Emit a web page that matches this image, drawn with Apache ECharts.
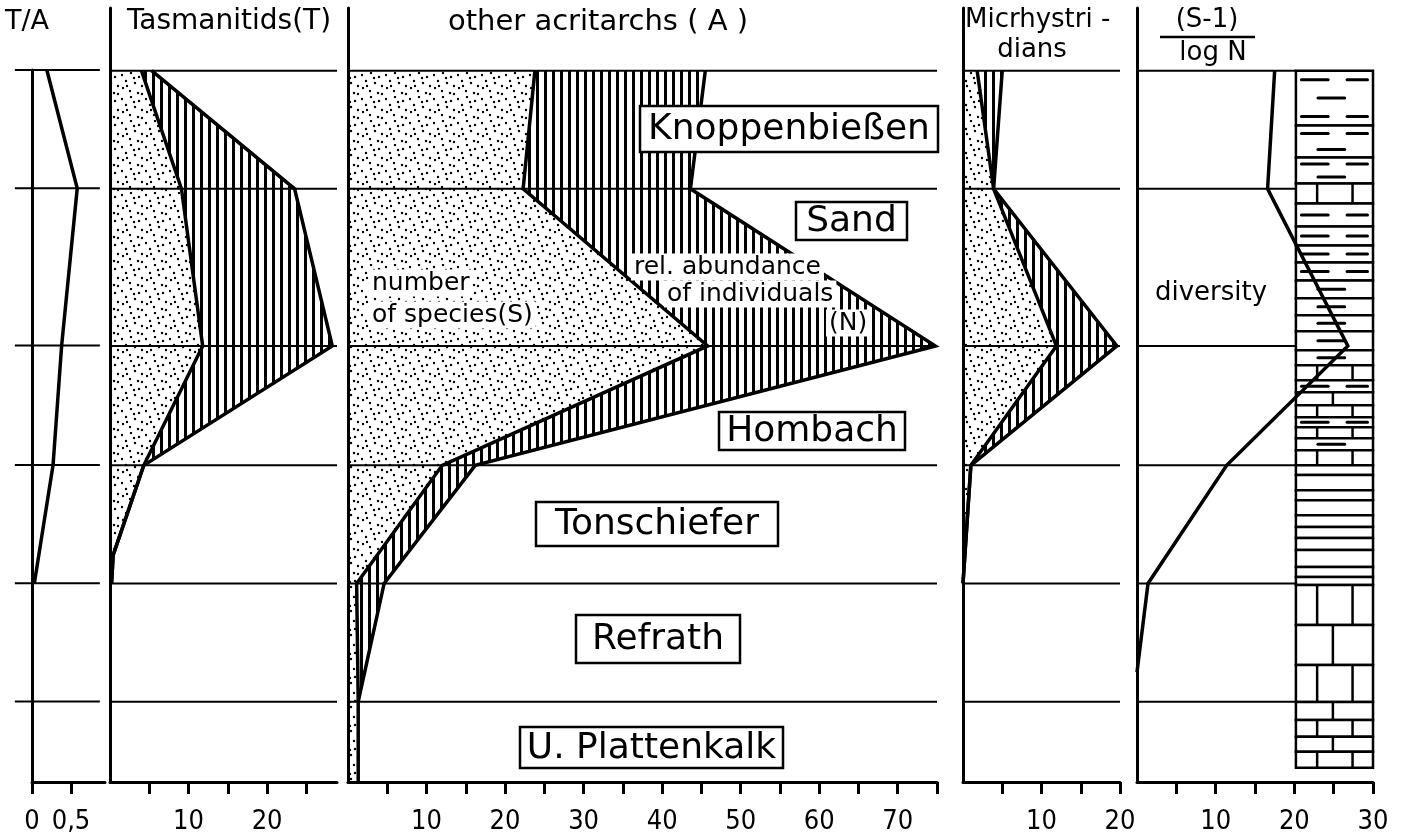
<!DOCTYPE html>
<html>
<head>
<meta charset="utf-8">
<script src="https://cdn.jsdelivr.net/npm/echarts@6/dist/echarts.min.js"></script>
<style>
    html, body { margin: 0; padding: 0; background: #fff; }
    #chart { width: 1402px; height: 836px; }
</style>
</head>
<body>
<div id="chart"></div>
<script>
// depth of the sample horizons (top horizon = 0)
const levels = [0, 10, 23.3, 33.4, 43.4, 53.4]

// T/A ratio
const taDepth = [0, 10, 23.3, 33.4, 43.4]
const taValues = [0.19, 0.58, 0.38, 0.27, 0.03]

// Tasmanitids: number of species (S) / rel. abundance (N)
const tasDepth = [0, 10, 23.3, 33.4, 41.0, 43.4]
const tasS = [4.0, 9.1, 11.8, 4.3, 0.4, 0.2]
const tasN = [5.3, 23.5, 28.3, 4.3, 0.4, 0.2]

// other acritarchs
const acrDepth = [0, 10, 23.3, 33.4, 43.4, 53.4, 60.2]
const acrS = [23.8, 22.3, 45.8, 12.0, 1.1, 1.3, 1.3]
const acrN = [45.5, 43.6, 74.8, 16.2, 4.6, 1.3]

// Micrhystridians
const micDepth = [0, 10, 23.3, 33.4, 43.4]
const micS = [1.8, 3.9, 11.9, 1.0, 0]
const micN = [5.0, 3.9, 19.6, 1.0, 0]

// diversity (S-1)/log N
const divDepth = [0, 10, 23.3, 33.4, 43.4, 50.9]
const divValues = [17.5, 16.6, 26.8, 11.4, 1.4, 0]

// lithology column: bed boundaries (depth) and bed type
const bedBounds = [0, 4.65, 7.35, 9.55, 11.24, 13.19, 14.79, 16.23, 17.75, 19.27, 20.71, 22.06, 23.67,
    24.94, 26.2, 27.22, 28.32, 29.33, 30.18, 31.11, 32.12, 33.39, 34.23, 35.5, 36.35, 37.62, 38.63,
    39.56, 40.57, 42.01, 42.86, 43.53, 46.91, 50.3, 53.42, 54.95, 56.38, 57.65, 59.0]
const bedType = ['sh2', 'sh2', 'sh2', 'bA', 'sh2', 'sh2', 'sh2', 'sh2', 'sh1', 'sh1', 'sh1', 'sh1', 'sh1',
    'bA', 'sh2', 'bB', 'bA', 'sh2', 'bA', 'sh1', 'bA',
    'pl', 'pl', 'pl', 'pl', 'pl', 'pl', 'pl', 'pl', 'pl', 'pl',
    'bA', 'bB', 'bA', 'bB', 'bA', 'bB', 'bA']

const NARROW = "'DejaVu Sans Condensed', 'Liberation Sans Narrow', 'DejaVu Sans', sans-serif"
const WIDE = "'DejaVu Sans', sans-serif"

// fill patterns
function stipple() {
    const c = document.createElement('canvas')
    c.width = 24; c.height = 24
    const g = c.getContext('2d')
    g.fillStyle = '#000'
    const dots = [[2, 3], [11, 1], [19, 5], [6, 9], [15, 11], [22, 14], [3, 16], [10, 19], [18, 21],
        [14, 6], [7, 14], [22, 22]]
    dots.forEach(d => { g.beginPath(); g.arc(d[0], d[1], 1.2, 0, Math.PI * 2); g.fill() })
    return { image: c, repeat: 'repeat' }
}
function hatch() {
    const c = document.createElement('canvas')
    c.width = 8; c.height = 8
    const g = c.getContext('2d')
    g.fillStyle = '#000'
    g.fillRect(0, 0, 3, 8)
    return { image: c, repeat: 'repeat' }
}
const DOTS = stipple()
const BARS = hatch()

function areaSeries(grid, depth, inner, outer, fill) {
    return {
        type: 'custom', xAxisIndex: grid, yAxisIndex: grid, z: 1, silent: true,
        data: [[0, 0]],
        renderItem: function (params, api) {
            const pts = []
            depth.forEach((d, i) => pts.push(api.coord([outer[i], d])))
            for (let i = depth.length - 1; i >= 0; i--) {
                pts.push(api.coord([inner ? inner[i] : 0, depth[i]]))
            }
            return { type: 'polygon', shape: { points: pts }, style: { fill: fill } }
        }
    }
}

function lineSeries(grid, depth, vals, z) {
    return {
        type: 'line', xAxisIndex: grid, yAxisIndex: grid, z: z || 5, silent: true,
        data: depth.map((d, i) => [vals[i], d]),
        symbol: 'none',
        lineStyle: { color: '#000', width: 3.5, join: 'miter' }
    }
}

// horizon lines of one column
function horizonSeries(grid, x0, x1) {
    return {
        type: 'custom', xAxisIndex: grid, yAxisIndex: grid, z: 3, silent: true,
        data: levels.map(d => [x0, d]),
        renderItem: function (params, api) {
            const d = api.value(1)
            const a = api.coord([x0, d])
            const b = api.coord([x1, d])
            return {
                type: 'line',
                shape: { x1: a[0], y1: a[1], x2: b[0], y2: b[1] },
                style: { stroke: '#000', lineWidth: 2 }
            }
        }
    }
}

// lithology column drawn in the diversity grid
const colLeft = 20.2, colRight = 30
function renderBed(params, api) {
    const i = params.dataIndex
    const top = api.value(0), bot = api.value(1)
    const p0 = api.coord([colLeft, top])
    const p1 = api.coord([colRight, bot])
    const x = p0[0], y = p0[1], w = p1[0] - p0[0], h = p1[1] - p0[1]
    const xAt = v => api.coord([v, top])[0]
    const kids = [{
        type: 'rect', shape: { x: x, y: y, width: w, height: h },
        style: { fill: '#fff', stroke: '#000', lineWidth: 2.5 }
    }]
    const t = bedType[i]
    if (t === 'bA' || t === 'bB') {
        const joints = t === 'bA' ? [22.9, 27.4] : [24.9]
        joints.forEach(j => kids.push({
            type: 'line', shape: { x1: xAt(j), y1: y, x2: xAt(j), y2: y + h },
            style: { stroke: '#000', lineWidth: 2.5 }
        }))
    }
    if (t === 'sh2' || t === 'sh1') {
        const rows = Math.max(1, Math.round(h / 17))
        for (let r = 0; r < rows; r++) {
            const yy = y + h * (r + 0.5) / rows
            const dashes = (t === 'sh2' && r % 2 === 0) ? [[20.9, 24.3], [26.7, 29.3]] : [[23.0, 26.4]]
            dashes.forEach(dd => kids.push({
                type: 'line', shape: { x1: xAt(dd[0]), y1: yy, x2: xAt(dd[1]), y2: yy },
                style: { stroke: '#000', lineWidth: 3, lineCap: 'round' }
            }))
        }
    }
    return { type: 'group', children: kids }
}

function chart() {
    const myChart = echarts.init(document.getElementById('chart'))

    const axisLine = { show: true, onZero: false, lineStyle: { color: '#000', width: 3 } }
    const tick = vals => ({ show: true, inside: false, length: 12, lineStyle: { color: '#000', width: 3 }, customValues: vals })
    const label = (vals, fmt) => ({
        show: true, customValues: vals, margin: 26, color: '#000',
        fontSize: 27, fontFamily: NARROW, formatter: fmt
    })
    const xAx = (grid, max, ticks, labels, fmt) => ({
        type: 'value', gridIndex: grid, position: 'bottom', min: 0, max: max,
        axisLine: axisLine, axisTick: tick(ticks), axisLabel: label(labels, fmt),
        splitLine: { show: false }
    })
    const yAx = (grid, min) => ({
        type: 'value', gridIndex: grid, position: 'left', inverse: true, min: min, max: 60.2,
        axisLine: axisLine, axisTick: { show: false }, axisLabel: { show: false },
        splitLine: { show: false }
    })

    // boxed formation names
    const box = (text, x, y, w, h) => [
        { type: 'rect', z: 100, shape: { x: x, y: y, width: w, height: h }, style: { fill: '#fff', stroke: '#000', lineWidth: 2.5 } },
        {
            type: 'text', z: 101, x: x + w / 2, y: y + h / 2 + 1,
            style: { text: text, font: '36px ' + WIDE, fill: '#000', textAlign: 'center', textVerticalAlign: 'middle', align: 'center', verticalAlign: 'middle' }
        }
    ]
    const txt = (text, x, y, size, align, bg) => ({
        type: 'text', z: 102, x: x, y: y,
        style: {
            text: text, font: size + 'px ' + WIDE, fill: '#000',
            textAlign: align, textVerticalAlign: 'middle', align: align, verticalAlign: 'middle',
            backgroundColor: bg ? '#fff' : null, padding: bg ? [1, 3] : 0
        }
    })

    const option = {
        animation: false,
        backgroundColor: '#fff',
        grid: [
            { left: 32, width: 73, top: 70, bottom: 54 },
            { left: 110, width: 227, top: 8, bottom: 54 },
            { left: 348, width: 589, top: 8, bottom: 54 },
            { left: 963, width: 157, top: 8, bottom: 54 },
            { left: 1137, width: 236, top: 8, bottom: 54 }
        ],
        xAxis: [
            xAx(0, 0.936, [0, 0.5], [0, 0.5], v => String(v).replace('.', ',')),
            xAx(1, 28.9, [5, 10, 15, 20, 25], [10, 20]),
            xAx(2, 75, [5, 10, 15, 20, 25, 30, 35, 40, 45, 50, 55, 60, 65, 70, 75], [10, 20, 30, 40, 50, 60, 70]),
            xAx(3, 20, [5, 10, 15, 20], [10, 20]),
            xAx(4, 30, [5, 10, 15, 20, 25, 30], [10, 20, 30])
        ],
        yAxis: [yAx(0, 0), yAx(1, -5.3), yAx(2, -5.3), yAx(3, -5.3), yAx(4, -5.3)],
        series: [
            // T/A
            horizonSeries(0, -0.22, 0.87),
            lineSeries(0, taDepth, taValues),
            // Tasmanitids
            areaSeries(1, tasDepth, null, tasS, DOTS),
            areaSeries(1, tasDepth, tasS, tasN, BARS),
            horizonSeries(1, 0, 28.9),
            lineSeries(1, tasDepth, tasS),
            lineSeries(1, tasDepth, tasN),
            // other acritarchs
            areaSeries(2, acrDepth, null, acrS, DOTS),
            areaSeries(2, acrDepth.slice(0, acrN.length), acrS.slice(0, acrN.length), acrN, BARS),
            horizonSeries(2, 0, 75),
            lineSeries(2, acrDepth, acrS),
            lineSeries(2, acrDepth.slice(0, acrN.length), acrN),
            // Micrhystridians
            areaSeries(3, micDepth, null, micS, DOTS),
            areaSeries(3, micDepth, micS, micN, BARS),
            horizonSeries(3, 0, 20),
            lineSeries(3, micDepth, micS),
            lineSeries(3, micDepth, micN),
            // diversity + lithology
            horizonSeries(4, 0, colLeft),
            {
                type: 'custom', xAxisIndex: 4, yAxisIndex: 4, z: 4, silent: true,
                data: bedBounds.slice(0, -1).map((t, i) => [t, bedBounds[i + 1]]),
                renderItem: renderBed
            },
            lineSeries(4, divDepth, divValues, 6)
        ],
        graphic: [
            txt('T/A', 27, 22, 27, 'center'),
            txt('Tasmanitids(T)', 229, 22, 28, 'center'),
            txt('other acritarchs ( A )', 598, 22, 29, 'center'),
            txt('Micrhystri -', 965, 20, 26, 'left'),
            txt('dians', 1032, 50, 26, 'center'),
            txt('(S-1)', 1207, 20, 26, 'center'),
            { type: 'line', z: 100, shape: { x1: 1160, y1: 37, x2: 1255, y2: 37 }, style: { stroke: '#000', lineWidth: 2.5 } },
            txt('log N', 1213, 53, 26, 'center'),
            ...box('Knoppenbießen', 640, 106, 298, 46),
            ...box('Sand', 796, 202, 111, 38),
            ...box('Hombach', 719, 412, 186, 38),
            ...box('Tonschiefer', 536, 502, 242, 44),
            ...box('Refrath', 576, 615, 164, 48),
            ...box('U. Plattenkalk', 520, 727, 263, 41),
            txt('number', 369, 283, 25, 'left', true),
            txt('of species(S)', 369, 315, 25, 'left', true),
            txt('rel. abundance', 631, 267, 25, 'left', true),
            txt('of individuals', 664, 294, 25, 'left', true),
            txt('(N)', 826, 323, 25, 'left', true),
            txt('diversity', 1155, 293, 26, 'left')
        ]
    }
    myChart.setOption(option)
}
chart()
</script>
</body>
</html>
